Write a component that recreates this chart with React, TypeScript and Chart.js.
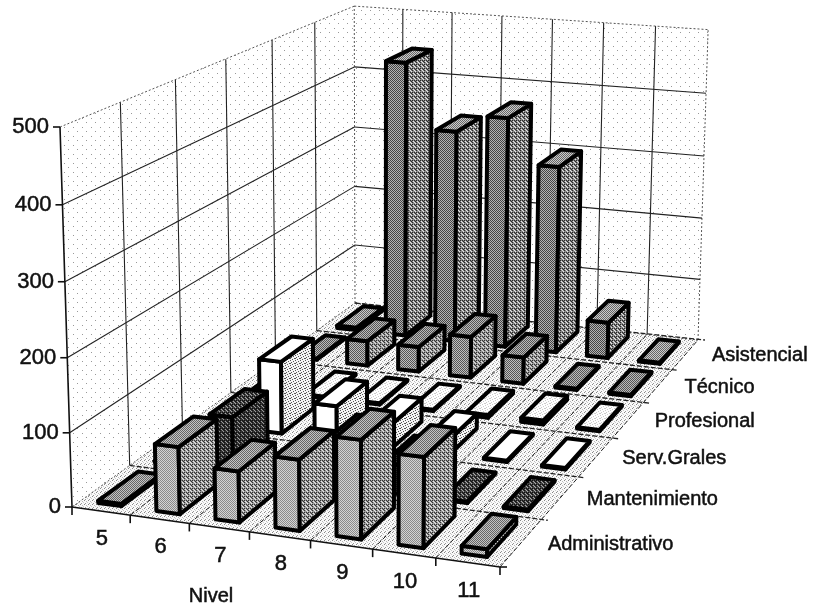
import React, { useEffect, useRef } from "react";
import { Chart, registerables } from "chart.js";

Chart.register(...registerables);

const niveles = ["5", "6", "7", "8", "9", "10", "11"];
const seriesNames = ["Administrativo", "Mantenimiento", "Serv.Grales", "Profesional", "Técnico", "Asistencial"];
const administrativo = [3, 90, 68, 94, 130, 118, 10];
const mantenimiento = [1, 77, 20, 60, 40, 2, 2];
const servGrales = [1, 105, 50, 35, 22, 2, 2];
const profesional = [1, 2, 2, 2, 4, 6, 2];
const tecnico = [2, 39, 39, 64, 41, 2, 2];
const asistencial = [4, 442, 339, 367, 297, 57, 2];
const yTicks = [0, 100, 200, 300, 400, 500];
const allSeries = [administrativo, mantenimiento, servGrales, profesional, tecnico, asistencial];
const seriesColors = ["#b0b0b0", "#3a3a3a", "#ffffff", "#ffffff", "#969696", "#858585"];

const FONT = '20px "Liberation Sans", Arial, sans-serif';
const NUM_FONT = '22px "Liberation Sans", Arial, sans-serif';

// floor corners on the page: front-left, front-right, back-right, back-left
const P0 = [72, 507], P1 = [500, 567], P2 = [698, 340], P3 = [355, 303];
const dx1 = P1[0] - P2[0], dx2 = P3[0] - P2[0], sx = P0[0] - P1[0] + P2[0] - P3[0];
const dy1 = P1[1] - P2[1], dy2 = P3[1] - P2[1], sy = P0[1] - P1[1] + P2[1] - P3[1];
const det = dx1 * dy2 - dx2 * dy1;
const G = (sx * dy2 - dx2 * sy) / det;
const H = (dx1 * sy - sx * dy1) / det;
const A = P1[0] - P0[0] + G * P1[0], B = P3[0] - P0[0] + H * P3[0];
const D = P1[1] - P0[1] + G * P1[1], E = P3[1] - P0[1] + H * P3[1];

function floorPt(u: number, v: number) {
  const w = 1 + G * u + H * v;
  return { x: (A * u + B * v + P0[0]) / w, y: (D * u + E * v + P0[1]) / w, w };
}

function makeTile(size: number, bg: string, dots: [number, number, string][]) {
  const c = document.createElement("canvas");
  c.width = size;
  c.height = size;
  const x = c.getContext("2d")!;
  x.fillStyle = bg;
  x.fillRect(0, 0, size, size);
  dots.forEach(([a, b, col]) => {
    x.fillStyle = col;
    x.fillRect(a, b, 1, 1);
  });
  return c;
}

const plugin3d = {
  id: "bars3d",
  beforeDatasetsDraw(chart: any) {
    const ctx: CanvasRenderingContext2D = chart.ctx;
    const xs = chart.scales.x;
    const ys = chart.scales.y;
    const pat = (size: number, bg: string, dots: [number, number, string][]) =>
      ctx.createPattern(makeTile(size, bg, dots), "repeat")!;

    const pt = (u: number, v: number, val: number) => {
      const p = floorPt(u, v);
      const t = (ys.bottom - ys.getPixelForValue(val)) / ys.height;
      const h = (ys.height * t * (0.97 + 0.03 * t)) / p.w;
      return { x: p.x + (h * (p.x - 380)) / 9750, y: p.y - h };
    };
    const line = (a: any, b: any) => {
      ctx.beginPath();
      ctx.moveTo(a.x, a.y);
      ctx.lineTo(b.x, b.y);
      ctx.stroke();
    };
    const poly = (pts: any[], fill: any) => {
      ctx.beginPath();
      pts.forEach((p, i) => (i ? ctx.lineTo(p.x, p.y) : ctx.moveTo(p.x, p.y)));
      ctx.closePath();
      ctx.fillStyle = fill;
      ctx.fill();
      ctx.stroke();
    };

    const wallPat = pat(9, "#ffffff", [[1, 1, "#999"], [5, 5, "#999"]]);
    const floorPat = pat(4, "#fafafa", [[0, 0, "#888"], [2, 1, "#bbb"], [1, 3, "#999"], [3, 2, "#ccc"]]);

    // walls and floor
    ctx.save();
    ctx.lineWidth = 0;
    ctx.strokeStyle = "transparent";
    poly([pt(0, 0, 0), pt(0, 1, 0), pt(0, 1, 500), pt(0, 0, 500)], wallPat);
    poly([pt(0, 1, 0), pt(1, 1, 0), pt(1, 1, 500), pt(0, 1, 500)], wallPat);
    poly([pt(0, 0, 0), pt(1, 0, 0), pt(1, 1, 0), pt(0, 1, 0)], floorPat);
    ctx.restore();

    // dotted outer edges of the walls
    ctx.save();
    ctx.strokeStyle = "#555";
    ctx.lineWidth = 1;
    ctx.setLineDash([2, 2]);
    line(pt(0, 0, 500), pt(0, 1, 500));
    line(pt(0, 1, 500), pt(1, 1, 500));
    line(pt(0, 1, 0), pt(0, 1, 500));
    line(pt(1, 1, 0), pt(1, 1, 500));
    line(pt(0, 1, 0), pt(1, 1, 0));
    line(pt(0, 0, 0), pt(0, 1, 0));
    ctx.restore();

    // wall grid
    ctx.save();
    ctx.strokeStyle = "#222";
    ctx.lineWidth = 1.1;
    yTicks.slice(1, -1).forEach((val) => {
      line(pt(0, 0, val), pt(0, 1, val));
      line(pt(0, 1, val), pt(1, 1, val));
    });
    for (let k = 1; k < seriesNames.length; k++) {
      line(pt(0, k / seriesNames.length, 0), pt(0, k / seriesNames.length, 500));
    }
    for (let k = 1; k < niveles.length; k++) {
      line(pt(k / niveles.length, 1, 0), pt(k / niveles.length, 1, 500));
    }
    ctx.restore();

    // floor grid
    ctx.save();
    ctx.strokeStyle = "#222";
    ctx.lineWidth = 1;
    ctx.setLineDash([5, 2]);
    for (let k = 1; k < niveles.length; k++) {
      line(pt(k / niveles.length, 0, 0), pt(k / niveles.length, 1, 0));
    }
    line(pt(1, 0, 0), pt(1, 1, 0));
    ctx.lineWidth = 1.3;
    for (let k = 1; k <= seriesNames.length; k++) {
      const a = pt(0, k / seriesNames.length, 0);
      const b = pt(1, k / seriesNames.length, 0);
      line(a, { x: b.x + 7, y: b.y });
    }
    ctx.restore();

    // axes
    ctx.save();
    ctx.strokeStyle = "#111";
    ctx.lineWidth = 1.6;
    line(pt(0, 0, 0), pt(1, 0, 0));
    line(pt(0, 0, 0), pt(0, 0, 500));
    for (let k = 0; k <= niveles.length; k++) {
      const p = pt(k / niveles.length, 0, 0);
      line(p, { x: p.x, y: p.y + 8 });
    }
    const b0 = pt(1, 0, 0);
    line(b0, { x: b0.x + 7, y: b0.y });
    yTicks.forEach((val) => {
      const p = pt(0, 0, val);
      line(p, { x: p.x - 7, y: p.y });
    });
    ctx.restore();

    // axis text, slightly heavy like the scanned original
    ctx.save();
    ctx.fillStyle = "#111";
    ctx.strokeStyle = "#111";
    ctx.lineWidth = 0.5;
    const label = (s: string, x: number, y: number) => {
      ctx.fillText(s, x, y);
      ctx.strokeText(s, x, y);
    };
    ctx.font = NUM_FONT;
    ctx.textBaseline = "middle";
    ctx.textAlign = "right";
    yTicks.forEach((val) => {
      const p = pt(0, 0, val);
      label(String(val), p.x - 11, p.y);
    });
    ctx.textAlign = "center";
    niveles.forEach((n, i) => {
      const u = (xs.getPixelForValue(i) - xs.left) / xs.width;
      const p = pt(u, 0, 0);
      label(n, p.x + 1, p.y + 28);
    });
    ctx.font = FONT;
    label("Nivel", 211, 596);
    ctx.textAlign = "left";
    seriesNames.forEach((n, s) => {
      const p = pt(1, (s + 0.5) / seriesNames.length, 0);
      label(n, p.x + 27, p.y + 1);
    });
    ctx.restore();

    // bar skins: [front, side, top]
    const dotted = (bg: string, ink: string) => pat(2, bg, [[0, 0, ink], [1, 1, ink]]);
    const hatch = (bg: string, ink: string, light: string) =>
      pat(4, bg, [[0, 0, ink], [2, 0, ink], [1, 1, light], [3, 1, ink], [0, 2, ink], [2, 2, light], [3, 3, light]]);
    const speck = (bg: string, ink: string) =>
      pat(5, bg, [[0, 0, ink], [3, 1, ink], [1, 2, ink], [4, 3, ink], [2, 4, ink], [0, 3, ink]]);
    const white = "#ffffff";
    const skins = [
      [dotted("#d4d4d4", "#8a8a8a"), hatch("#9a9a9a", "#333", "#e8e8e8"), dotted("#c4c4c4", "#666")],
      [hatch("#333", "#111", "#999"), hatch("#333", "#111", "#999"), hatch("#444", "#111", "#aaa")],
      [white, speck("#f4f4f4", "#555"), white],
      [white, speck("#f4f4f4", "#555"), speck(white, "#ccc")],
      [dotted("#c0c0c0", "#555"), hatch("#999", "#333", "#e0e0e0"), dotted("#bbb", "#555")],
      [dotted("#b4b4b4", "#444"), hatch("#888", "#2a2a2a", "#e8e8e8"), dotted("#ccc", "#666")],
    ];

    // bars, back row first
    ctx.save();
    ctx.strokeStyle = "#000";
    ctx.lineWidth = 4;
    ctx.lineJoin = "round";
    const nS = chart.data.datasets.length;
    const hu = 0.2 / niveles.length;
    const hv = 0.35 / nS;
    for (let s = nS - 1; s >= 0; s--) {
      const values: number[] = chart.data.datasets[s].data;
      values.forEach((val, i) => {
        const u = (xs.getPixelForValue(i) - xs.left) / xs.width;
        const v = (s + 0.5) / nS;
        const fl0 = pt(u - hu, v - hv, 0), fr0 = pt(u + hu, v - hv, 0), br0 = pt(u + hu, v + hv, 0);
        const fl = pt(u - hu, v - hv, val), fr = pt(u + hu, v - hv, val);
        const br = pt(u + hu, v + hv, val), bl = pt(u - hu, v + hv, val);
        poly([fl0, fr0, fr, fl], skins[s][0]);
        poly([fr0, br0, br, fr], skins[s][1]);
        poly([fl, fr, br, bl], skins[s][2]);
      });
    }
    ctx.restore();
    return false;
  },
};

export default function App() {
  const ref = useRef<HTMLCanvasElement>(null);
  useEffect(() => {
    const chart = new Chart(ref.current!, {
      type: "bar",
      data: {
        labels: niveles,
        datasets: seriesNames.map((name, s) => ({
          label: name,
          data: allSeries[s],
          backgroundColor: seriesColors[s],
        })),
      },
      options: {
        animation: false,
        responsive: false,
        layout: { padding: { left: 72, right: 315, top: 127, bottom: 105 } },
        plugins: { legend: { display: false }, tooltip: { enabled: false } },
        scales: {
          x: { type: "category", display: false, offset: true },
          y: { type: "linear", display: false, min: 0, max: 500 },
        },
      },
      plugins: [plugin3d],
    } as any);
    return () => chart.destroy();
  }, []);
  return (
    <div style={{ position: "absolute", left: 0, top: 0, width: 815, height: 612, background: "#fff" }}>
      <canvas ref={ref} width={815} height={612} style={{ display: "block" }} />
    </div>
  );
}
